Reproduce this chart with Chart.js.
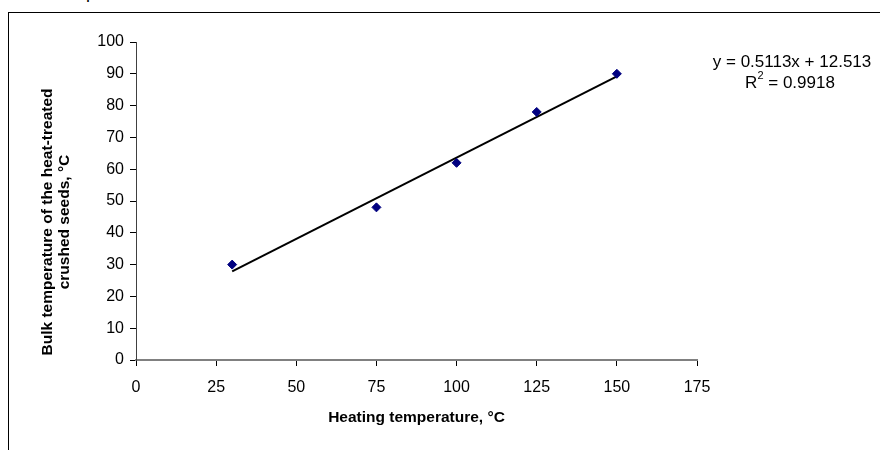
<!DOCTYPE html>
<html>
<head>
<meta charset="utf-8">
<script src="https://cdn.jsdelivr.net/npm/chart.js@4.4.1/dist/chart.umd.min.js"></script>
<style>
  html, body { margin: 0; padding: 0; background: #fff; }
  #wrap { position: relative; width: 880px; height: 450px; overflow: hidden; }
  #frame { position: absolute; left: 8px; top: 12px; width: 900px; height: 460px;
           border-left: 1px solid #000; border-top: 1px solid #000; }
  #cut { position: absolute; left: -1px; top: -18px; font: 18px "Liberation Sans", Arial, sans-serif; color: #000; }
  canvas { position: absolute; left: 0; top: 0; }
</style>
</head>
<body>
<div id="wrap">
  <div id="cut">seeds sample</div>
  <div id="frame"></div>
  <canvas id="chart" width="880" height="450"></canvas>
</div>
<script>
// Data
const heatingTemp = [30, 75, 100, 125, 150];
const bulkTemp = [30, 48, 62, 78, 90];

// Linear trendline as printed on the chart
const trendSlope = 0.5113;
const trendIntercept = 12.513;
const trendR2 = 0.9918;
const trendX = [30, 150];

const xTitle = 'Heating temperature, °C';
const yTitle = ['Bulk temperature of the heat-treated', 'crushed seeds, °C'];

const FONT = '"Liberation Sans", Arial, sans-serif';

const points = heatingTemp.map((x, i) => ({ x: x, y: bulkTemp[i] }));
const trend = trendX.map(x => ({ x: x, y: trendSlope * x + trendIntercept }));

// Axis titles and the trendline label
const labelsPlugin = {
    id: 'labels',
    afterDraw(chart) {
        const { ctx, chartArea } = chart;
        ctx.save();
        ctx.fillStyle = '#000';
        ctx.textAlign = 'center';
        ctx.textBaseline = 'middle';

        ctx.font = 'bold 15.5px ' + FONT;
        ctx.fillText(xTitle, (chartArea.left + chartArea.right) / 2, 418);

        ctx.save();
        ctx.translate(48, 222);
        ctx.rotate(-Math.PI / 2);
        ctx.fillText(yTitle[0], 0, 0);
        ctx.fillText(yTitle[1], 0, 17);
        ctx.restore();

        ctx.font = '17px ' + FONT;
        ctx.fillText('y = ' + trendSlope + 'x + ' + trendIntercept, 792, 62);
        const r = ' = ' + trendR2;
        const wR = ctx.measureText('R').width;
        const wR2 = ctx.measureText(r).width;
        ctx.font = '11px ' + FONT;
        const w2 = ctx.measureText('2').width;
        const start = 790 - (wR + w2 + wR2) / 2;
        ctx.textAlign = 'left';
        ctx.fillText('2', start + wR, 76);
        ctx.font = '17px ' + FONT;
        ctx.fillText('R', start, 83);
        ctx.fillText(r, start + wR + w2, 83);
        ctx.restore();
    }
};

new Chart(document.getElementById('chart').getContext('2d'), {
    type: 'scatter',
    data: {
        datasets: [
            {
                label: 'Measured',
                data: points,
                pointStyle: 'rectRot',
                pointRadius: 4.5,
                pointHoverRadius: 4.5,
                backgroundColor: '#000080',
                borderColor: '#000080',
                borderWidth: 1
            },
            {
                label: 'Linear',
                type: 'line',
                data: trend,
                borderColor: '#000',
                borderWidth: 2,
                pointRadius: 0,
                fill: false
            }
        ]
    },
    options: {
        responsive: false,
        animation: false,
        layout: { padding: { left: 0, right: 183, top: 42, bottom: 0 } },
        plugins: {
            legend: { display: false },
            tooltip: { enabled: false }
        },
        scales: {
            x: {
                type: 'linear',
                min: 0,
                max: 175,
                afterFit: s => { s.height = 90; },
                grid: { drawOnChartArea: false, drawTicks: true, tickLength: 6, color: '#000' },
                border: { color: '#808080', width: 2 },
                ticks: { stepSize: 25, color: '#000', padding: 12, font: { family: FONT, size: 16 } }
            },
            y: {
                min: 0,
                max: 100,
                afterFit: s => { s.width = 136; },
                grid: { drawOnChartArea: false, drawTicks: true, tickLength: 6, color: '#000' },
                border: { color: '#404040', width: 1 },
                ticks: { stepSize: 10, color: '#000', padding: 6, font: { family: FONT, size: 16 } }
            }
        }
    },
    plugins: [labelsPlugin]
});
</script>
</body>
</html>
